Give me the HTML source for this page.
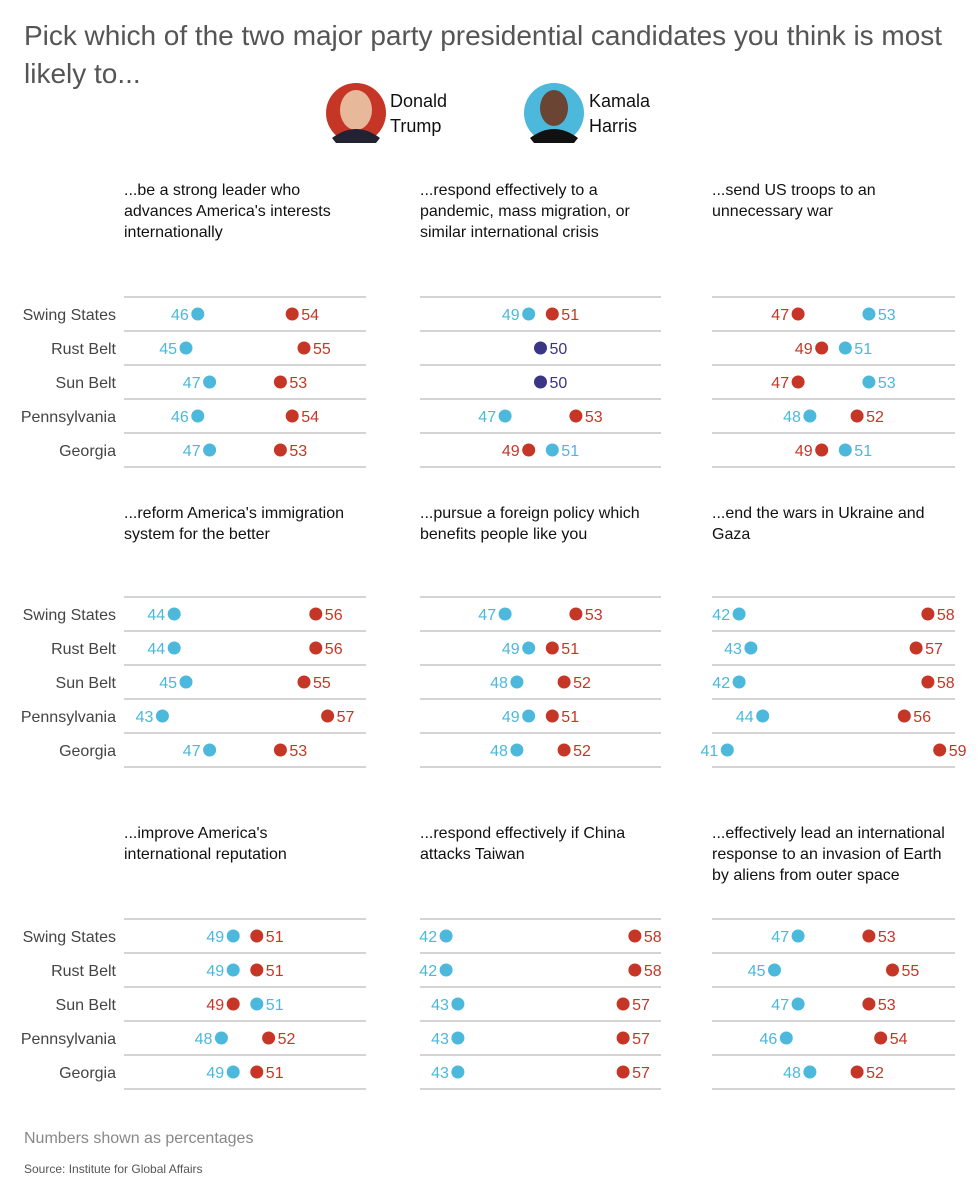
<!DOCTYPE html>
<html><head><meta charset="utf-8"><style>
body{margin:0;background:#fff;width:978px;height:1200px;overflow:hidden;font-family:"Liberation Sans",sans-serif}
svg{display:block}
</style></head><body>
<svg id="chart" width="978" height="1200">
<text x="24" y="45" font-size="28" fill="#555" textLength="918">Pick which of the two major party presidential candidates you think is most</text>
<text x="24" y="83" font-size="28" fill="#555">likely to...</text>
<g>
<circle cx="356" cy="113" r="30" fill="#c63626"/>
<ellipse cx="356" cy="110" rx="16" ry="20" fill="#e8b89a"/>
<path d="M332 138 Q356 120 380 138 L376 143 L336 143Z" fill="#223"/>
<text x="390" y="107" font-size="18" fill="#111">Donald</text>
<text x="390" y="132" font-size="18" fill="#111">Trump</text>
</g>
<g>
<circle cx="554" cy="113" r="30" fill="#4bb8dc"/>
<ellipse cx="554" cy="108" rx="14" ry="18" fill="#6b4433"/>
<path d="M530 138 Q554 120 578 138 L574 143 L534 143Z" fill="#111"/>
<text x="589" y="107" font-size="18" fill="#111">Kamala</text>
<text x="589" y="132" font-size="18" fill="#111">Harris</text>
</g>
<text x="24" y="1143" font-size="16" fill="#888">Numbers shown as percentages</text>
<text x="24" y="1173" font-size="12" fill="#555">Source: Institute for Global Affairs</text>
</svg>
<script>
const regions = ["Swing States","Rust Belt","Sun Belt","Pennsylvania","Georgia"];
const titles = [
 ["...be a strong leader who","advances America's interests","internationally"],
 ["...respond effectively to a","pandemic, mass migration, or","similar international crisis"],
 ["...send US troops to an","unnecessary war"],
 ["...reform America's immigration","system for the better"],
 ["...pursue a foreign policy which","benefits people like you"],
 ["...end the wars in Ukraine and","Gaza"],
 ["...improve America's","international reputation"],
 ["...respond effectively if China","attacks Taiwan"],
 ["...effectively lead an international","response to an invasion of Earth","by aliens from outer space"]
];
const trump = [
 [54,55,53,54,53],[51,50,50,53,49],[47,49,47,52,49],
 [56,56,55,57,53],[53,51,52,51,52],[58,57,58,56,59],
 [51,51,49,52,51],[58,58,57,57,57],[53,55,53,54,52]
];
const harris = [
 [46,45,47,46,47],[49,50,50,47,51],[53,51,53,48,51],
 [44,44,45,43,47],[47,49,48,49,48],[42,43,42,44,41],
 [49,49,51,48,49],[42,42,43,43,43],[47,45,47,46,48]
];
const NS="http://www.w3.org/2000/svg";
const svg=document.getElementById('chart');
const colX=[[124,366],[420,661],[712,955]];
const rowTop=[297,597,919];
const titleY=[195,518,838];
const step=34, ppt=11.8;
const RED="#c63626",BLUE="#4bb8dc",PURP="#3b3585";
function mk(tag,attrs,parent){const e=document.createElementNS(NS,tag);for(const k in attrs)e.setAttribute(k,attrs[k]);(parent||svg).appendChild(e);return e;}
for(let p=0;p<9;p++){
 const c=p%3,r=Math.floor(p/3);
 const x0=colX[c][0],x1=colX[c][1],mid=(x0+x1)/2;
 const xs=v=>mid+(v-50)*ppt;
 const g=mk('g',{});
 
 
 titles[p].forEach((t,i)=>{const tx=mk('text',{x:x0,y:titleY[r]+i*21,'font-size':16,fill:'#111'},g);tx.textContent=t;
  
  });
 for(let i=0;i<=5;i++){const ln=mk('line',{x1:x0,x2:x1,y1:rowTop[r]+i*step,y2:rowTop[r]+i*step,stroke:'#bbb','stroke-width':1.3},g);
  
  }
 for(let i=0;i<5;i++){
  const y=rowTop[r]+i*step+17;
  if(c===0){const t=mk('text',{x:116,y:y+6,'font-size':16,fill:'#444','text-anchor':'end'},g);t.textContent=regions[i];
   
   }
  const tv=trump[p][i],hv=harris[p][i];
  if(tv===hv){
   const d=mk('circle',{cx:xs(tv),cy:y,r:6.5,fill:PURP},g);
   
   
   const t=mk('text',{x:xs(tv)+9,y:y+6,'font-size':16,fill:PURP},g);t.textContent=tv;
   
   
   continue;
  }
  const pts=[[tv,RED,'trump'],[hv,BLUE,'harris']];
  pts.forEach(([v,col,nm])=>{
   const other=nm==='trump'?hv:tv;
   const left=v<other;
   const d=mk('circle',{cx:xs(v),cy:y,r:6.5,fill:col},g);
   
   
   const t=mk('text',{x:left?xs(v)-9:xs(v)+9,y:y+6,'font-size':16,fill:col,'text-anchor':left?'end':'start'},g);
   t.textContent=v;
   
   
  });
 }
}
</script>
</body></html>
